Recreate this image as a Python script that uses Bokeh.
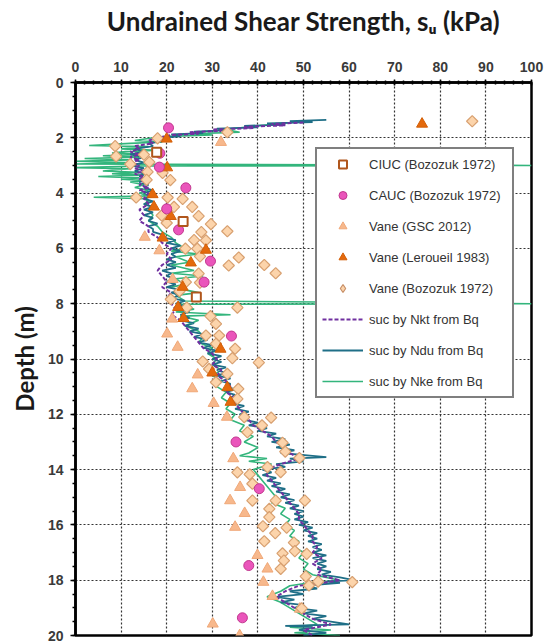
import numpy as np
from bokeh.plotting import figure
from bokeh.models import Range1d, Legend, LegendItem, SingleIntervalTicker
from bokeh.embed import file_html
from bokeh.resources import INLINE

# ---------------- data ----------------
x_ticks_interval = 10
y_ticks_interval = 2

# CIUC (Bozozuk 1972)
ciuc_su = [17.8, 23.6, 26.5]
ciuc_depth = [2.52, 5.03, 7.76]

# CAUC (Bozozuk 1972)
cauc_su = [20.4, 18.5, 18.4, 24.2, 20.0, 22.6, 29.6, 28.2, 34.2, 35.2, 40.3, 38.0, 36.6]
cauc_depth = [1.64, 2.56, 3.06, 3.81, 4.57, 5.33, 6.46, 7.22, 9.17, 13.0, 14.69, 17.47, 19.36]

# Vane (GSC 2012)
gsc_su = [31.9, 15.2, 18.4, 21.3, 21.2, 20.1, 22.4, 26.8, 25.6, 30.3, 33.2, 34.6, 36.1,
          33.9, 37.1, 35.0, 39.9, 42.1, 41.2, 43.2, 49.2, 30.1, 36.0]
gsc_depth = [2.16, 5.59, 6.08, 7.12, 8.55, 9.09, 9.57, 10.57, 11.07, 11.6, 12.1, 13.6, 14.64,
             15.12, 15.58, 16.08, 17.1, 17.59, 18.07, 18.58, 19.04, 19.58, 20.0]

# Vane (Leroueil 1983)
ler_su = [76.0, 20.0, 20.1, 16.9, 17.2, 20.9, 19.1, 25.3, 28.6, 23.5, 22.5, 23.7, 31.8, 30.0, 33.3, 34.0]
ler_depth = [1.5, 2.04, 3.08, 4.05, 4.5, 4.84, 5.62, 6.52, 6.06, 7.4, 8.13, 8.53, 9.64, 10.5, 11.03, 11.56]

# Vane (Bozozuk 1972)
boz_su = [87.0, 33.3, 18.0, 8.7, 8.9, 12.0, 15.0, 16.2, 15.8, 15.6, 19.1, 20.8, 13.3, 20.2, 23.5,
          25.6, 21.6, 18.9, 27.0, 29.7, 33.3, 27.6, 20.0, 26.0, 28.6, 24.1, 26.7, 27.3, 33.6, 35.8,
          41.4, 43.9, 27.0, 27.3, 22.8, 24.2, 20.9, 35.5, 24.4, 29.6, 30.8, 28.6, 31.5, 30.8, 35.0,
          27.9, 34.4, 40.2, 29.3, 33.3, 30.8, 35.7, 35.5, 37.0, 42.9, 40.9, 37.7, 45.4, 46.0, 49.1,
          42.1, 45.0, 35.5, 38.2, 38.8, 38.8, 43.9, 50.3, 42.5, 42.5, 41.1, 43.8, 46.3, 41.4, 47.9,
          48.1, 45.4, 45.7, 45.0, 50.7, 50.5, 53.2, 51.2, 60.7, 49.6]
boz_depth = [1.4, 1.8, 2.02, 2.3, 2.67, 2.95, 2.61, 2.88, 3.23, 3.52, 3.27, 3.53, 4.16, 4.16, 4.21,
             4.5, 4.5, 4.81, 4.83, 5.12, 5.38, 5.41, 5.08, 5.7, 5.71, 6.01, 6.01, 6.29, 6.62, 6.33,
             6.6, 6.9, 6.91, 7.24, 7.55, 7.22, 7.84, 8.14, 8.14, 8.45, 8.73, 9.15, 9.15, 9.45, 9.63,
             10.09, 9.97, 10.13, 10.36, 10.54, 10.84, 11.08, 11.44, 12.1, 12.12, 12.4, 12.65, 13.03, 13.35, 13.58,
             13.91, 14.09, 14.1, 14.17, 14.51, 15.12, 15.12, 15.12, 15.42, 15.72, 16.05, 16.3, 16.1, 16.59, 16.64,
             16.95, 17.03, 17.29, 17.59, 17.05, 17.86, 18.05, 18.19, 18.07, 19.02]

# suc by Nkt from Bq  (depth, su)
nkt_profile = [(1.45, 50), (1.5, 43), (1.55, 46), (1.6, 37), (1.65, 39), (1.7, 30), (1.75, 32), (1.8, 25),
               (1.85, 27), (1.9, 21), (2.0, 18), (2.1, 16), (2.2, 17), (2.3, 13), (2.4, 14), (2.5, 12),
               (2.6, 14), (2.7, 12), (2.8, 14), (2.9, 12), (3.0, 14), (3.1, 13), (3.2, 15), (3.3, 13),
               (3.4, 15), (3.5, 14), (3.6, 15), (3.7, 14), (3.8, 16), (3.9, 14), (4.0, 16), (4.2, 15),
               (4.4, 16), (4.6, 14), (4.8, 15), (5.0, 14), (5.2, 16), (5.4, 16), (5.6, 18), (5.8, 19),
               (6.0, 21), (6.2, 20), (6.4, 21), (6.6, 19), (6.8, 18), (7.0, 19), (7.2, 20), (7.4, 19),
               (7.6, 21), (7.8, 20), (8.0, 21), (8.2, 22), (8.4, 21), (8.6, 23), (8.8, 24), (9.0, 25),
               (9.2, 26), (9.4, 27), (9.6, 28), (9.8, 30), (10.0, 31), (10.2, 30), (10.4, 32), (10.6, 31),
               (10.8, 33), (11.0, 34), (11.2, 33), (11.4, 35), (11.6, 35), (11.8, 36), (12.0, 37), (12.2, 38),
               (12.4, 39), (12.6, 41), (12.8, 43), (13.0, 44), (13.2, 46), (13.4, 47), (13.6, 49), (13.8, 45),
               (14.0, 42), (14.2, 42), (14.4, 43), (14.6, 44), (14.8, 45), (15.0, 46), (15.2, 47), (15.4, 48),
               (15.6, 49), (15.8, 49), (16.0, 50), (16.2, 51), (16.4, 52), (16.6, 52), (16.8, 53), (17.0, 52),
               (17.2, 54), (17.4, 52), (17.6, 54), (17.8, 53), (18.0, 58), (18.1, 54), (18.2, 49), (18.4, 46),
               (18.6, 44), (18.8, 46), (19.0, 48), (19.2, 50), (19.4, 52), (19.6, 56), (19.8, 50), (20.0, 52)]

# suc by Ndu from Bq  (depth, su)
ndu_profile = [(1.35, 55), (1.40, 47), (1.43, 52), (1.48, 42), (1.52, 46), (1.57, 37), (1.62, 40), (1.67, 31),
               (1.72, 34), (1.78, 26), (1.83, 28), (1.88, 21), (1.95, 23), (2.0, 18), (2.1, 20), (2.2, 16),
               (2.3, 17), (2.4, 13), (2.5, 15), (2.6, 12), (2.7, 15), (2.8, 13), (2.9, 15), (3.0, 12),
               (3.1, 15), (3.2, 13), (3.3, 15), (3.4, 14), (3.5, 16), (3.6, 14), (3.7, 16), (3.8, 15),
               (3.9, 17), (4.0, 15), (4.1, 17), (4.2, 15), (4.3, 17), (4.4, 15), (4.5, 17), (4.6, 15),
               (4.7, 17), (4.8, 15), (4.9, 17), (5.0, 16), (5.1, 18), (5.2, 16), (5.3, 17), (5.4, 17),
               (5.5, 19), (5.6, 19), (5.7, 22), (5.8, 20), (5.9, 23), (6.0, 21), (6.1, 23), (6.2, 21),
               (6.3, 22), (6.4, 20), (6.5, 22), (6.6, 20), (6.7, 22), (6.8, 19), (6.9, 21), (7.0, 20),
               (7.1, 22), (7.2, 20), (7.3, 22), (7.4, 20), (7.5, 23), (7.6, 21), (7.7, 23), (7.8, 21),
               (7.9, 24), (8.0, 22), (8.1, 24), (8.2, 22), (8.3, 25), (8.4, 23), (8.5, 25), (8.6, 23),
               (8.7, 26), (8.8, 24), (8.9, 27), (9.0, 25), (9.1, 28), (9.2, 26), (9.3, 29), (9.4, 27),
               (9.5, 30), (9.6, 28), (9.7, 31), (9.8, 29), (9.9, 32), (10.0, 30), (10.1, 32), (10.2, 30),
               (10.3, 33), (10.4, 31), (10.5, 33), (10.6, 31), (10.7, 34), (10.8, 32), (10.9, 34), (11.0, 33),
               (11.1, 35), (11.2, 33), (11.3, 35), (11.4, 34), (11.5, 36), (11.6, 34), (11.7, 37), (11.8, 35),
               (11.9, 38), (12.0, 36), (12.1, 38), (12.2, 37), (12.3, 40), (12.4, 38), (12.5, 42), (12.6, 40),
               (12.7, 44), (12.8, 42), (12.9, 46), (13.0, 43), (13.1, 47), (13.2, 44), (13.3, 48), (13.4, 45),
               (13.5, 52), (13.55, 55), (13.6, 47), (13.7, 50), (13.8, 44), (13.9, 46), (14.0, 41), (14.1, 43),
               (14.2, 41), (14.3, 44), (14.4, 42), (14.5, 45), (14.6, 43), (14.7, 46), (14.8, 44), (14.9, 47),
               (15.0, 45), (15.1, 48), (15.2, 46), (15.3, 49), (15.4, 47), (15.5, 50), (15.6, 48), (15.7, 50),
               (15.8, 48), (15.9, 51), (16.0, 49), (16.1, 52), (16.2, 50), (16.3, 53), (16.4, 51), (16.5, 53),
               (16.6, 51), (16.7, 54), (16.8, 52), (16.9, 54), (17.0, 52), (17.1, 55), (17.2, 52), (17.3, 55),
               (17.4, 53), (17.5, 55), (17.6, 53), (17.7, 56), (17.8, 54), (17.9, 58), (18.0, 61), (18.05, 55),
               (18.1, 58), (18.2, 50), (18.3, 53), (18.4, 47), (18.5, 50), (18.6, 44), (18.7, 48), (18.8, 45),
               (18.9, 50), (19.0, 48), (19.1, 53), (19.2, 50), (19.3, 55), (19.4, 52), (19.5, 56), (19.6, 60),
               (19.65, 46), (19.7, 52), (19.8, 49), (19.9, 55), (20.0, 50)]

# suc by Nke from Bq  (depth, su)
nke_profile = [(1.4, 50), (1.5, 44), (1.6, 38), (1.7, 33), (1.8, 36), (1.85, 26), (1.9, 30), (1.95, 20),
               (2.0, 17), (2.1, 13), (2.15, 19), (2.2, 12), (2.28, 3), (2.32, 16), (2.4, 10), (2.45, 18),
               (2.5, 11), (2.55, 8), (2.6, 15), (2.65, 6), (2.7, 14), (2.75, 2), (2.8, 12), (2.85, 0),
               (2.9, 13), (2.95, 0), (3.0, 100), (3.02, 14), (3.08, 0), (3.12, 12), (3.2, 6), (3.25, 14),
               (3.3, 8), (3.35, 15), (3.4, 5), (3.45, 14), (3.5, 10), (3.55, 16), (3.6, 12), (3.7, 15),
               (3.8, 13), (3.9, 16), (4.0, 14), (4.1, 16), (4.15, 4), (4.2, 15), (4.3, 16), (4.4, 15),
               (4.5, 17), (4.6, 16), (4.8, 17), (5.0, 16), (5.2, 18), (5.4, 19), (5.6, 21), (5.8, 22),
               (6.0, 24), (6.1, 21), (6.2, 27), (6.3, 22), (6.5, 25), (6.6, 21), (6.8, 26), (6.9, 21),
               (7.0, 28), (7.1, 22), (7.3, 24), (7.4, 21), (7.6, 27), (7.7, 22), (7.9, 24), (8.0, 100),
               (8.02, 23), (8.2, 26), (8.3, 22), (8.4, 34), (8.45, 23), (8.6, 27), (8.8, 24), (9.0, 27),
               (9.2, 28), (9.4, 27), (9.6, 30), (9.8, 29), (10.0, 31), (10.2, 30), (10.4, 32), (10.6, 30),
               (10.8, 32), (11.0, 31), (11.2, 33), (11.4, 32), (11.6, 34), (11.8, 33), (12.0, 35), (12.2, 34),
               (12.4, 37), (12.6, 36), (12.8, 39), (13.0, 37), (13.2, 40), (13.4, 38), (13.5, 36), (13.6, 42),
               (13.7, 38), (13.8, 43), (14.0, 39), (14.2, 40), (14.4, 41), (14.6, 42), (14.8, 43), (15.0, 44),
               (15.2, 43), (15.4, 46), (15.6, 45), (15.8, 47), (16.0, 46), (16.2, 48), (16.4, 47), (16.6, 49),
               (16.8, 48), (17.0, 50), (17.2, 49), (17.4, 51), (17.6, 50), (17.8, 52), (18.0, 58), (18.1, 51),
               (18.2, 47), (18.4, 45), (18.6, 42), (18.8, 45), (19.0, 47), (19.2, 49), (19.4, 51), (19.6, 53),
               (19.7, 47), (19.8, 56), (19.9, 48), (20.0, 58)]

# ---------------- figure ----------------
p = figure(width=546, height=642, x_range=Range1d(0, 100), y_range=Range1d(20, 0),
           x_axis_location="above", output_backend="svg", toolbar_location=None,
           min_border_left=75, min_border_right=15, min_border_top=82, min_border_bottom=7,
           background_fill_color="white", border_fill_color="white")

p.outline_line_color = "black"
p.outline_line_width = 2.5

p.xaxis.ticker = SingleIntervalTicker(interval=x_ticks_interval, num_minor_ticks=5)
p.yaxis.ticker = SingleIntervalTicker(interval=y_ticks_interval, num_minor_ticks=4)

for ax in (p.xaxis[0], p.yaxis[0]):
    ax.axis_line_color = "black"
    ax.axis_line_width = 2.5
    ax.major_tick_line_color = "black"
    ax.minor_tick_line_color = "black"
    ax.major_tick_line_width = 1.5
    ax.minor_tick_line_width = 1.5
    ax.major_label_text_font = "Liberation Sans"
    ax.major_label_text_font_style = "bold"
    ax.major_label_text_font_size = "14px"
    ax.major_label_text_color = "#3a3a3a"
    ax.axis_label_text_font = "Lato"
    ax.axis_label_text_font_style = "bold"
    ax.axis_label_text_color = "#1a1a1a"

p.xaxis.major_tick_in = 3
p.xaxis.major_tick_out = 3
p.xaxis.minor_tick_in = 2
p.xaxis.minor_tick_out = 2
p.xaxis.major_label_standoff = 8
p.xaxis.axis_label = "Undrained Shear Strength, s\u1d64 (kPa)"
p.xaxis.axis_label_text_font_size = "26px"
p.xaxis.axis_label_standoff = 22

p.yaxis.major_tick_in = 0
p.yaxis.major_tick_out = 5
p.yaxis.minor_tick_in = 0
p.yaxis.minor_tick_out = 3
p.yaxis.major_label_standoff = 7
p.yaxis.axis_label = "Depth (m)"
p.yaxis.axis_label_text_font_size = "24px"
p.yaxis.axis_label_standoff = 6

for g in (p.xgrid[0], p.ygrid[0]):
    g.grid_line_color = "#333333"
    g.grid_line_dash = "2 2"
    g.grid_line_width = 1.2

# ---------------- lines ----------------
nkt_d = [d for d, s in nkt_profile]; nkt_s = [s for d, s in nkt_profile]
ndu_d = [d for d, s in ndu_profile]; ndu_s = [s for d, s in ndu_profile]
nke_d = [d for d, s in nke_profile]; nke_s = [s for d, s in nke_profile]

r_nke = p.line(nke_s, nke_d, line_color="#33b57c", line_width=1.6)
r_ndu = p.line(ndu_s, ndu_d, line_color="#1f6f87", line_width=1.8)
r_nkt = p.line(nkt_s, nkt_d, line_color="#7030a0", line_width=2, line_dash="4 2")

# ---------------- markers ----------------
r_gsc = p.scatter(gsc_su, gsc_depth, marker="triangle", size=11,
                  fill_color="#f7b88c", line_color="#f0a878", line_width=1)
r_boz = p.scatter(boz_su, boz_depth, marker="square", angle=np.pi / 4, size=8,
                  fill_color="#fcd4ab", line_color="#d8a070", line_width=1.2)
# legend swatch for the diamonds (a single point placed outside the visible range)
r_boz_leg = p.scatter([-50], [-50], marker="diamond", size=11,
                      fill_color="#fcd4ab", line_color="#c89068", line_width=1.2)
r_ler = p.scatter(ler_su, ler_depth, marker="triangle", size=11,
                  fill_color="#e4690c", line_color="#d35f08", line_width=1)
r_cauc = p.scatter(cauc_su, cauc_depth, marker="circle", size=10,
                   fill_color="#ea55bb", line_color="#c2388f", line_width=1)
r_ciuc = p.scatter(ciuc_su, ciuc_depth, marker="square", size=9,
                   fill_color="white", line_color="#b0561c", line_width=2)

legend = Legend(items=[
    LegendItem(label="CIUC (Bozozuk 1972)", renderers=[r_ciuc]),
    LegendItem(label="CAUC (Bozozuk 1972)", renderers=[r_cauc]),
    LegendItem(label="Vane (GSC 2012)", renderers=[r_gsc]),
    LegendItem(label="Vane (Leroueil 1983)", renderers=[r_ler]),
    LegendItem(label="Vane (Bozozuk 1972)", renderers=[r_boz_leg]),
    LegendItem(label="suc by Nkt from Bq", renderers=[r_nkt]),
    LegendItem(label="suc by Ndu from Bq", renderers=[r_ndu]),
    LegendItem(label="suc by Nke from Bq", renderers=[r_nke]),
], location=(240, 237))
legend.margin = 0
legend.padding = 5
legend.spacing = 11
legend.glyph_height = 20
legend.label_height = 20
legend.glyph_width = 41
legend.label_standoff = 6
legend.label_width = 138
legend.label_text_font = "Liberation Sans"
legend.label_text_font_size = "13px"
legend.label_text_color = "#333333"
legend.border_line_color = "black"
legend.border_line_width = 2
legend.background_fill_color = "white"
legend.background_fill_alpha = 1.0
p.add_layout(legend)

open("out.html", "w").write(file_html(p, INLINE))
